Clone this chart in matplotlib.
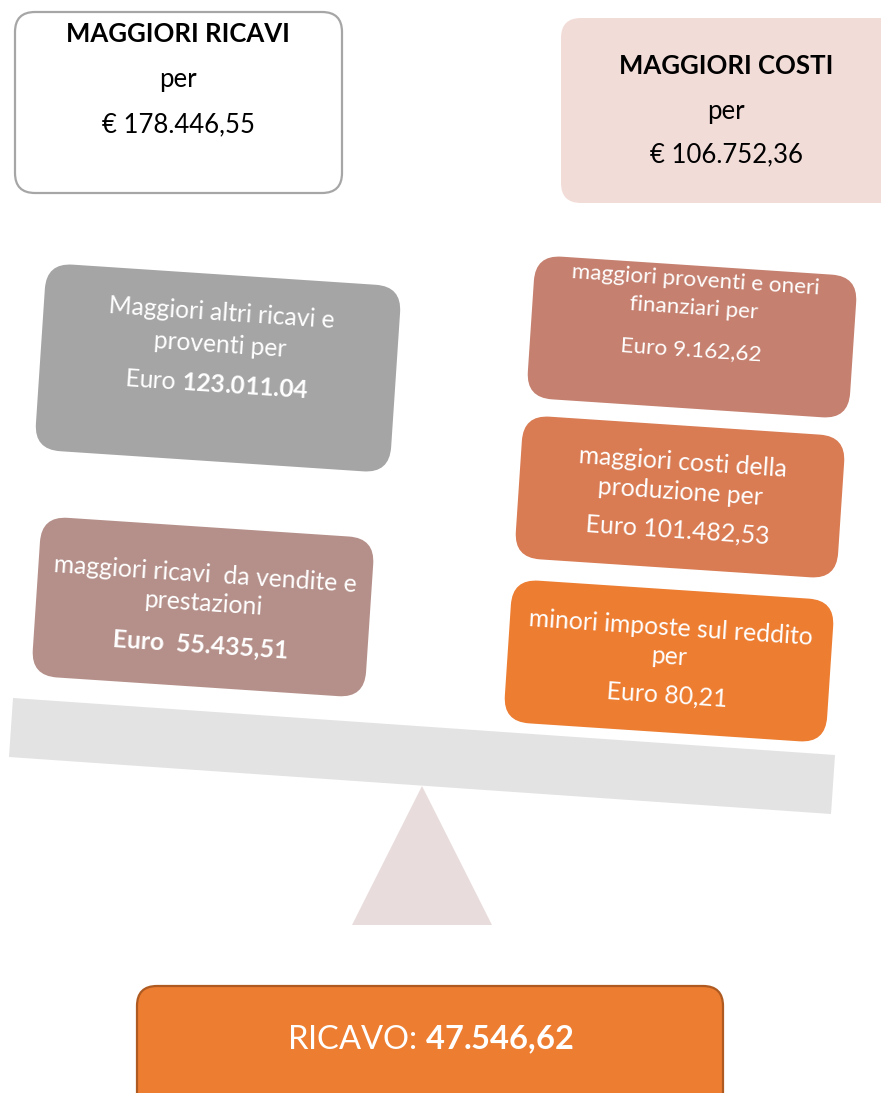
import matplotlib
matplotlib.use("Agg")
import matplotlib.pyplot as plt
from matplotlib.patches import FancyBboxPatch, Polygon
from matplotlib.transforms import Affine2D

plt.rcParams['font.family'] = ['Lato', 'DejaVu Sans']
plt.rcParams['mathtext.fontset'] = 'custom'
plt.rcParams['mathtext.rm'] = 'Lato'
plt.rcParams['mathtext.bf'] = 'Lato:bold'

# --- data ---
tot_ricavi = "178.446,55"
tot_costi = "106.752,36"
risultato = "47.546,62"

ricavi_labels = ["Maggiori altri ricavi e\nproventi per",
                 "maggiori ricavi  da vendite e\nprestazioni"]
ricavi_values = ["123.011.04", "55.435,51"]

costi_labels = ["maggiori proventi e oneri\nfinanziari per",
                "maggiori costi della\nproduzione per",
                "minori imposte sul reddito\nper"]
costi_values = ["9.162,62", "101.482,53", "80,21"]

# --- layout (pixel space, y down) ---
W, H = 881, 1093
tilt = 3.8
# cx, cy, w, h, colour, line offsets, font size, value bold style
ricavi_boxes = [(218, 368, 356, 187, "#a5a5a5", (-55, -23, 17), 17.7, "num"),
                (203, 607, 334, 160, "#b5908a", (-32, -4, 38), 17.8, "all")]
costi_boxes = [(692, 337, 323, 143, "#c5806f", (-57, -29, 13), 16.2),
               (680, 497, 323, 143, "#d97b53", (-35, -5, 33), 17.8),
               (669, 661, 323, 143, "#ed7d31", (-33, -4, 34), 17.8)]

fig = plt.figure(figsize=(W / 100, H / 100), dpi=100)
ax = fig.add_axes([0, 0, 1, 1])
ax.set_xlim(0, W)
ax.set_ylim(H, 0)
ax.axis("off")


def tr_text(cx, cy):
    return Affine2D().translate(cx, cy).rotate_deg_around(cx, cy, tilt) + ax.transData


def tilted_box(cx, cy, w, h, color, offsets, fs, lines, weights):
    tr = Affine2D().rotate_deg_around(cx, cy, tilt) + ax.transData
    box = FancyBboxPatch((cx - w / 2, cy - h / 2), w, h,
                         boxstyle="round,pad=0,rounding_size=26",
                         fc=color, ec="none", transform=tr)
    ax.add_patch(box)
    for dy, txt, wt in zip(offsets, lines, weights):
        ax.text(0, dy, txt, transform=tr_text(cx, cy), ha="center", va="center",
                rotation=-tilt, rotation_mode="anchor", color="white",
                fontsize=fs, fontweight=wt)


# beam and fulcrum
ax.add_patch(Polygon([(13, 698), (835, 755), (831, 814), (9, 757)],
                     closed=True, fc="#e3e3e3", ec="none"))
ax.add_patch(Polygon([(422, 786), (492, 925), (352, 925)],
                     closed=True, fc="#e9dcdc", ec="none"))

for (cx, cy, w, h, col, offs, fs, style), lab, val in zip(ricavi_boxes, ricavi_labels, ricavi_values):
    l1, l2 = lab.split("\n")
    if style == "num":
        l3 = "Euro $\\mathbf{" + val.replace(",", "{,}") + "}$"
        wts = ["normal", "normal", "normal"]
    else:
        l3 = "Euro  " + val
        wts = ["normal", "normal", "bold"]
    tilted_box(cx, cy, w, h, col, offs, fs, [l1, l2, l3], wts)

for (cx, cy, w, h, col, offs, fs), lab, val in zip(costi_boxes, costi_labels, costi_values):
    l1, l2 = lab.split("\n")
    tilted_box(cx, cy, w, h, col, offs, fs, [l1, l2, "Euro " + val],
               ["normal"] * 3)

# top summary boxes
top_fs = 18.5
ax.add_patch(FancyBboxPatch((15, 12), 327, 181,
                            boxstyle="round,pad=0,rounding_size=20",
                            fc="white", ec="#a6a6a6", lw=1.6))
ax.text(178, 34, "MAGGIORI RICAVI", ha="center", va="center", fontsize=top_fs,
        fontweight="bold", color="black")
ax.text(178, 80, "per", ha="center", va="center", fontsize=top_fs, color="black")
ax.text(178, 125, "€ " + tot_ricavi, ha="center", va="center", fontsize=top_fs, color="black")

ax.add_patch(FancyBboxPatch((561, 18), 340, 185,
                            boxstyle="round,pad=0,rounding_size=20",
                            fc="#f2dcd8", ec="none"))
ax.text(726, 66, "MAGGIORI COSTI", ha="center", va="center", fontsize=top_fs,
        fontweight="bold", color="black")
ax.text(726, 111, "per", ha="center", va="center", fontsize=top_fs, color="black")
ax.text(726, 155, "€ " + tot_costi, ha="center", va="center", fontsize=top_fs, color="black")

# result box
ax.add_patch(FancyBboxPatch((137, 986), 586, 130,
                            boxstyle="round,pad=0,rounding_size=20",
                            fc="#ed7d31", ec="#ae5a21", lw=1.6))
ax.text(430, 1040, "RICAVO: $\\mathbf{" + risultato.replace(",", "{,}") + "}$",
        ha="center", va="center", fontsize=23.5, color="white")

fig.savefig("out.png", dpi=100)
